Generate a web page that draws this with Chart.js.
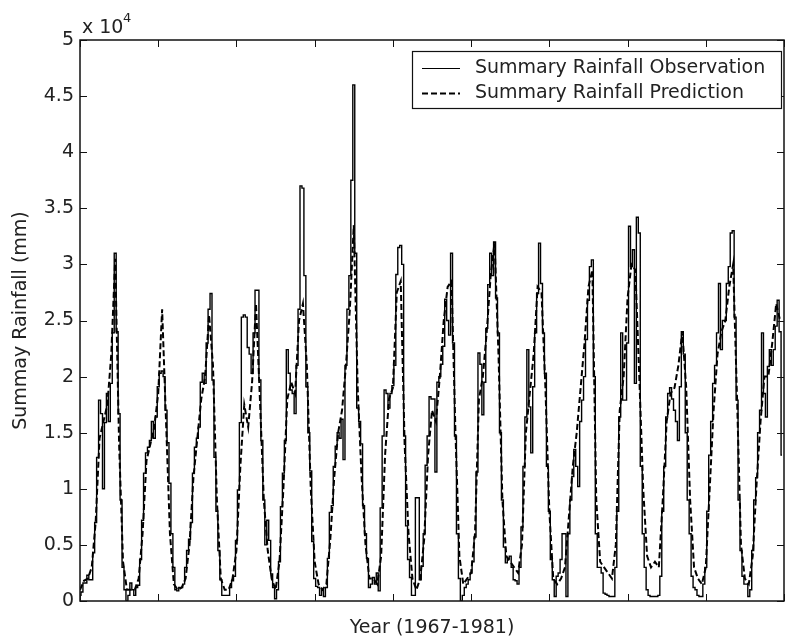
<!DOCTYPE html>
<html>
<head>
<meta charset="utf-8">
<script src="https://cdn.jsdelivr.net/npm/chart.js@4/dist/chart.umd.min.js"></script>
<style>
  html, body { margin: 0; padding: 0; background: #fff; }
  #wrap { width: 785px; height: 639px; }
</style>
</head>
<body>
<div id="wrap"><canvas id="myChart"></canvas></div>
<script>
// observed rainfall, half-month steps (x 10^4 mm), one row per year 1967..1981
const observed = [
  0.05, 0.08, 0.16, 0.16, 0.23, 0.19, 0.19, 0.43, 0.70, 1.28, 1.79, 1.67, 1.00, 1.59, 1.85, 1.60, 1.94, 2.39, 3.10, 2.40, 1.67, 0.90, 0.30, 0.10,
  0.00, 0.05, 0.16, 0.10, 0.05, 0.12, 0.14, 0.37, 0.72, 1.14, 1.32, 1.37, 1.43, 1.60, 1.45, 1.64, 1.91, 2.03, 2.05, 2.00, 1.70, 1.41, 1.05, 0.60,
  0.30, 0.10, 0.09, 0.12, 0.12, 0.15, 0.30, 0.45, 0.55, 0.70, 1.14, 1.37, 1.45, 1.55, 1.95, 2.03, 1.94, 2.30, 2.60, 2.74, 1.97, 1.28, 0.80, 0.45,
  0.19, 0.05, 0.05, 0.05, 0.05, 0.12, 0.18, 0.22, 0.54, 0.99, 1.59, 2.53, 2.55, 2.53, 2.26, 2.20, 2.03, 2.39, 2.77, 2.77, 1.97, 1.43, 0.90, 0.50,
  0.72, 0.54, 0.24, 0.12, 0.02, 0.10, 0.35, 0.84, 1.14, 1.43, 2.24, 2.03, 1.88, 1.85, 1.67, 2.10, 2.60, 3.70, 3.68, 2.90, 1.91, 1.50, 1.16, 0.53,
  0.20, 0.13, 0.12, 0.05, 0.10, 0.04, 0.12, 0.38, 0.79, 0.85, 1.20, 1.38, 1.50, 1.45, 1.62, 1.26, 2.10, 2.60, 2.90, 3.75, 4.60, 3.10, 1.72, 1.60,
  1.40, 0.85, 0.60, 0.38, 0.12, 0.15, 0.21, 0.15, 0.25, 0.09, 0.83, 1.47, 1.88, 1.85, 1.72, 1.85, 1.92, 2.10, 2.91, 3.15, 3.17, 3.00, 1.47, 0.67,
  0.37, 0.21, 0.05, 0.05, 0.92, 0.92, 0.19, 0.31, 0.60, 1.21, 1.47, 1.82, 1.80, 1.80, 1.15, 1.95, 2.00, 2.11, 2.27, 2.69, 2.50, 2.37, 3.10, 2.30,
  1.47, 0.60, 0.20, 0.00, 0.05, 0.12, 0.15, 0.19, 0.25, 0.35, 0.57, 1.15, 2.21, 2.11, 1.66, 1.95, 2.43, 2.82, 3.10, 2.90, 3.20, 2.70, 2.39, 1.50,
  0.90, 0.48, 0.34, 0.38, 0.40, 0.30, 0.19, 0.18, 0.15, 0.30, 0.66, 1.20, 1.64, 2.24, 1.73, 1.32, 1.91, 2.39, 2.74, 3.19, 2.83, 2.39, 2.03, 1.20,
  0.80, 0.37, 0.19, 0.04, 0.22, 0.25, 0.37, 0.60, 0.60, 0.04, 0.60, 0.90, 1.11, 1.35, 1.20, 1.02, 1.60, 1.79, 2.00, 2.33, 2.68, 2.98, 3.04, 2.00,
  0.60, 0.30, 0.30, 0.25, 0.07, 0.06, 0.05, 0.04, 0.04, 0.04, 0.30, 0.80, 1.64, 2.39, 1.79, 1.79, 2.30, 3.34, 2.98, 3.13, 1.94, 3.42, 3.28, 1.20,
  0.60, 0.30, 0.10, 0.05, 0.04, 0.04, 0.04, 0.04, 0.05, 0.22, 0.80, 1.20, 1.64, 1.85, 1.90, 1.80, 1.70, 1.60, 1.43, 1.91, 2.40, 2.20, 1.50, 0.90,
  0.60, 0.22, 0.12, 0.10, 0.05, 0.04, 0.04, 0.15, 0.30, 0.80, 1.30, 1.60, 1.94, 2.10, 2.39, 2.83, 2.24, 2.50, 2.50, 2.83, 2.98, 3.28, 3.30, 2.53,
  1.79, 0.90, 0.45, 0.22, 0.15, 0.15, 0.04, 0.10, 0.45, 0.90, 1.10, 1.50, 1.70, 2.39, 1.85, 1.64, 2.09, 2.24, 2.10, 2.24, 2.45, 2.68, 2.40, 1.30,
];

// predicted rainfall, monthly (x 10^4 mm)
const predicted = [
  0.10, 0.18, 0.20, 0.30, 0.70, 1.45, 1.60, 1.75, 2.20, 3.05, 1.40, 0.35,
  0.10, 0.10, 0.10, 0.20, 0.60, 1.25, 1.40, 1.55, 1.85, 2.60, 1.60, 0.60,
  0.15, 0.10, 0.12, 0.20, 0.50, 1.10, 1.45, 1.80, 2.00, 2.55, 2.10, 0.90,
  0.20, 0.10, 0.10, 0.20, 0.45, 1.20, 1.75, 1.55, 1.95, 2.65, 1.80, 0.90,
  0.45, 0.20, 0.10, 0.35, 1.00, 1.80, 1.95, 1.85, 2.50, 2.65, 2.10, 1.00,
  0.35, 0.15, 0.10, 0.15, 0.55, 1.10, 1.50, 1.70, 2.10, 2.60, 3.35, 1.90,
  1.10, 0.50, 0.20, 0.20, 0.15, 0.40, 1.30, 1.80, 1.90, 2.75, 2.85, 1.40,
  0.60, 0.20, 0.10, 0.20, 0.55, 1.30, 1.70, 1.60, 2.00, 2.50, 2.80, 2.85,
  1.50, 0.40, 0.15, 0.20, 0.25, 0.60, 1.80, 2.00, 2.40, 2.90, 3.20, 2.20,
  0.90, 0.40, 0.35, 0.30, 0.25, 0.50, 1.50, 1.85, 2.20, 2.80, 2.75, 1.90,
  0.80, 0.20, 0.15, 0.20, 0.30, 0.75, 1.20, 1.50, 1.90, 2.30, 2.80, 2.95,
  0.90, 0.35, 0.30, 0.25, 0.20, 0.50, 1.70, 2.00, 2.70, 3.00, 2.95, 2.00,
  1.00, 0.40, 0.30, 0.35, 0.30, 0.90, 1.60, 1.85, 1.90, 2.10, 2.40, 1.90,
  0.90, 0.30, 0.20, 0.15, 0.30, 1.00, 1.70, 2.20, 2.40, 2.50, 2.80, 3.00,
  1.80, 0.50, 0.20, 0.15, 0.40, 1.05, 1.60, 2.00, 2.00, 2.30, 2.65, 2.50,
];

const xTicks = [0, 20, 40, 60, 80, 100, 120, 140, 160, 180];
const yTickLabels = ["0", "0.5", "1", "1.5", "2", "2.5", "3", "3.5", "4", "4.5", "5"];
const seriesNames = ["Summary Rainfall Observation", "Summary Rainfall Prediction"];

const FONT = "DejaVu Sans";
const INK = "#222";

// box, inward ticks, exponent label and legend, like the matlab figure
const frame = {
  id: "frame",
  afterDatasetsDraw(chart) {
    const { ctx, chartArea: a, scales } = chart;
    const x = scales.x, y = scales.y;
    ctx.save();
    ctx.strokeStyle = "#111";
    ctx.lineWidth = 1.5;
    ctx.strokeRect(a.left, a.top, a.right - a.left, a.bottom - a.top);
    ctx.beginPath();
    xTicks.forEach((v) => {
      const px = Math.round(x.getPixelForValue(v)) + 0.5;
      ctx.moveTo(px, a.bottom); ctx.lineTo(px, a.bottom - 7);
      ctx.moveTo(px, a.top); ctx.lineTo(px, a.top + 7);
    });
    y.ticks.forEach((t) => {
      const py = Math.round(y.getPixelForValue(t.value)) + 0.5;
      ctx.moveTo(a.left, py); ctx.lineTo(a.left + 7, py);
      ctx.moveTo(a.right, py); ctx.lineTo(a.right - 7, py);
    });
    ctx.lineWidth = 1;
    ctx.stroke();

    // "x 10^4"
    ctx.fillStyle = INK;
    ctx.textBaseline = "alphabetic";
    ctx.font = "19px " + FONT;
    ctx.fillText("x 10", 82, 33);
    ctx.font = "13px " + FONT;
    ctx.fillText("4", 123, 22);

    // legend
    const lx = 412, ly = 51, lw = 369, lh = 57;
    ctx.fillStyle = "#fff";
    ctx.fillRect(lx, ly, lw, lh);
    ctx.strokeStyle = "#111";
    ctx.lineWidth = 1.2;
    ctx.strokeRect(lx + 0.5, ly + 0.5, lw, lh);
    chart.data.datasets.forEach((ds, i) => {
      const ry = ly + 17 + i * 25;
      ctx.beginPath();
      ctx.setLineDash(ds.borderDash || []);
      ctx.lineWidth = i === 0 ? 1 : ds.borderWidth;
      ctx.strokeStyle = ds.borderColor;
      ctx.moveTo(422, ry + 0.5); ctx.lineTo(460, ry + 0.5);
      ctx.stroke();
      ctx.setLineDash([]);
      ctx.fillStyle = INK;
      ctx.font = "19px " + FONT;
      ctx.textBaseline = "middle";
      ctx.fillText(ds.label, 475, ry);
    });
    ctx.restore();
  },
};

new Chart(document.getElementById("myChart"), {
  type: "line",
  data: {
    datasets: [
      {
        label: seriesNames[0],
        data: observed.map((v, i) => ({ x: i / 2, y: v })),
        borderColor: "#000",
        borderWidth: 1.4,
        stepped: "middle",
        pointRadius: 0,
        fill: false,
      },
      {
        label: seriesNames[1],
        data: predicted.map((v, i) => ({ x: i, y: v })),
        borderColor: "#000",
        borderWidth: 2,
        borderDash: [6, 3],
        pointRadius: 0,
        tension: 0,
        fill: false,
      },
    ],
  },
  options: {
    responsive: true,
    maintainAspectRatio: false,
    animation: false,
    layout: { padding: { top: 40, right: 1, left: 0, bottom: 0 } },
    scales: {
      x: {
        type: "linear",
        min: 0,
        max: 180,
        grid: { display: false },
        border: { display: false },
        ticks: { display: false },
        title: {
          display: true,
          text: "Year (1967-1981)",
          color: INK,
          font: { family: FONT, size: 19 },
          padding: { top: 0, bottom: 0 },
        },
        afterFit(scale) { scale.height = 38; },
      },
      y: {
        min: 0,
        max: 5,
        grid: { display: false, drawTicks: false },
        border: { display: false },
        ticks: {
          stepSize: 0.5,
          padding: 6,
          color: INK,
          font: { family: FONT, size: 19 },
          callback: (v, i) => yTickLabels[i],
        },
        title: {
          display: true,
          text: "Summay Rainfall (mm)",
          color: INK,
          font: { family: FONT, size: 19 },
          padding: { top: 10, bottom: 0 },
        },
        afterFit(scale) { scale.width = 80; },
      },
    },
    plugins: {
      legend: { display: false },
      tooltip: { enabled: false },
    },
  },
  plugins: [frame],
});
</script>
</body>
</html>
